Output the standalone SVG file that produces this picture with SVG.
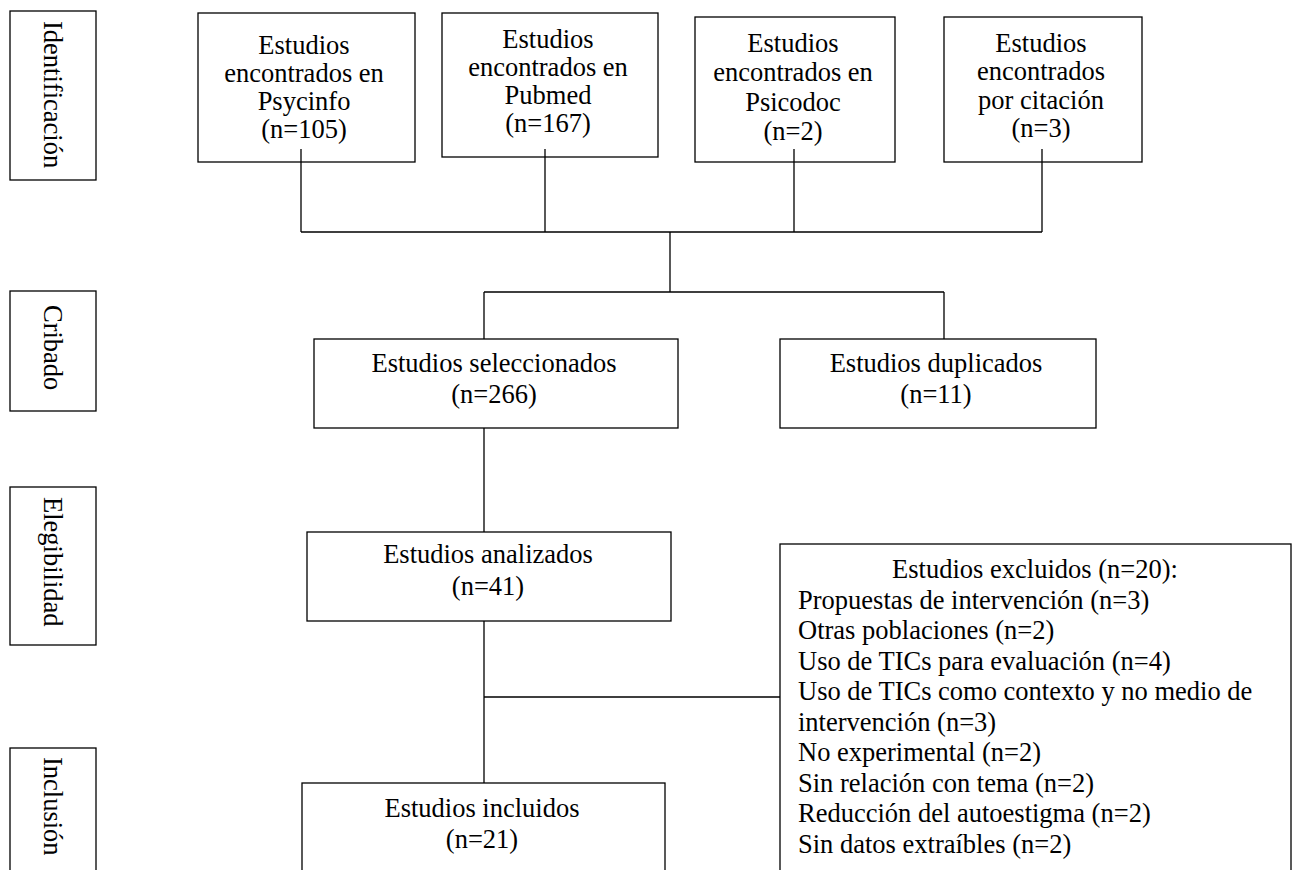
<svg xmlns="http://www.w3.org/2000/svg" width="1293" height="870" viewBox="0 0 1293 870">
<style>
.box{fill:#fff;stroke:#000;stroke-width:1.3}
.t{font-family:"Liberation Serif","Times New Roman",serif;font-size:26.5px;fill:#000}
.c{text-anchor:middle}
.s{text-anchor:start}
.ln{fill:none;stroke:#000;stroke-width:1.3}
</style>
<rect width="1293" height="870" fill="#fff"/>
<g id="lbl-identificacion">
<rect class="box" x="10" y="11" width="86" height="169"/>
<text class="t s" transform="translate(44,21) rotate(90)">Identificación</text>
</g>
<g id="lbl-cribado">
<rect class="box" x="10" y="291" width="86" height="120"/>
<text class="t s" transform="translate(44,305) rotate(90)">Cribado</text>
</g>
<g id="lbl-elegibilidad">
<rect class="box" x="10" y="487" width="86" height="158"/>
<text class="t s" transform="translate(44,497) rotate(90)">Elegibilidad</text>
</g>
<g id="lbl-inclusion">
<rect class="box" x="10" y="748" width="86" height="140"/>
<text class="t s" transform="translate(44,757) rotate(90)">Inclusión</text>
</g>
<g id="n-psycinfo">
<rect class="box" x="198" y="13" width="217" height="149"/>
<text class="t c" x="304" y="54">Estudios</text>
<text class="t c" x="304" y="82">encontrados en</text>
<text class="t c" x="304" y="110">Psycinfo</text>
<text class="t c" x="304" y="138">(n=105)</text>
</g>
<g id="n-pubmed">
<rect class="box" x="442" y="13" width="216" height="144"/>
<text class="t c" x="548" y="48">Estudios</text>
<text class="t c" x="548" y="76">encontrados en</text>
<text class="t c" x="548" y="104">Pubmed</text>
<text class="t c" x="548" y="132">(n=167)</text>
</g>
<g id="n-psicodoc">
<rect class="box" x="695" y="17" width="200" height="145"/>
<text class="t c" x="793" y="52">Estudios</text>
<text class="t c" x="793" y="81">encontrados en</text>
<text class="t c" x="793" y="111">Psicodoc</text>
<text class="t c" x="793" y="140">(n=2)</text>
</g>
<g id="n-citacion">
<rect class="box" x="944" y="17" width="198" height="145"/>
<text class="t c" x="1041" y="52">Estudios</text>
<text class="t c" x="1041" y="80">encontrados</text>
<text class="t c" x="1041" y="109">por citación</text>
<text class="t c" x="1041" y="137">(n=3)</text>
</g>
<g id="n-seleccionados">
<rect class="box" x="314" y="339" width="364" height="89"/>
<text class="t c" x="494" y="372">Estudios seleccionados</text>
<text class="t c" x="494" y="403">(n=266)</text>
</g>
<g id="n-duplicados">
<rect class="box" x="780" y="339" width="316" height="89"/>
<text class="t c" x="936" y="372">Estudios duplicados</text>
<text class="t c" x="936" y="403">(n=11)</text>
</g>
<g id="n-analizados">
<rect class="box" x="307" y="532" width="364" height="89"/>
<text class="t c" x="488" y="563">Estudios analizados</text>
<text class="t c" x="488" y="595">(n=41)</text>
</g>
<g id="n-incluidos">
<rect class="box" x="302" y="783" width="363" height="100"/>
<text class="t c" x="482" y="817">Estudios incluidos</text>
<text class="t c" x="482" y="848">(n=21)</text>
</g>
<g id="n-excluidos">
<rect class="box" x="780" y="544" width="511" height="340"/>
<text class="t c" x="1035" y="578">Estudios excluidos (n=20):</text>
<text class="t s" x="798" y="608.5">Propuestas de intervención (n=3)</text>
<text class="t s" x="798" y="639">Otras poblaciones (n=2)</text>
<text class="t s" x="798" y="669.5">Uso de TICs para evaluación (n=4)</text>
<text class="t s" x="798" y="700">Uso de TICs como contexto y no medio de</text>
<text class="t s" x="798" y="730.5">intervención (n=3)</text>
<text class="t s" x="798" y="761">No experimental (n=2)</text>
<text class="t s" x="798" y="791.5">Sin relación con tema (n=2)</text>
<text class="t s" x="798" y="822">Reducción del autoestigma (n=2)</text>
<text class="t s" x="798" y="852.5">Sin datos extraíbles (n=2)</text>
</g>
<g id="connectors">
<path class="ln" d="M301 149V232M545 149V232M794 149V232M1042 149V232M301 232H1042"/>
<path class="ln" d="M670 232V292M484 292H944M484 292V339M944 292V339"/>
<path class="ln" d="M484 428V532M484 621V783M484 697H780"/>
</g>
</svg>
